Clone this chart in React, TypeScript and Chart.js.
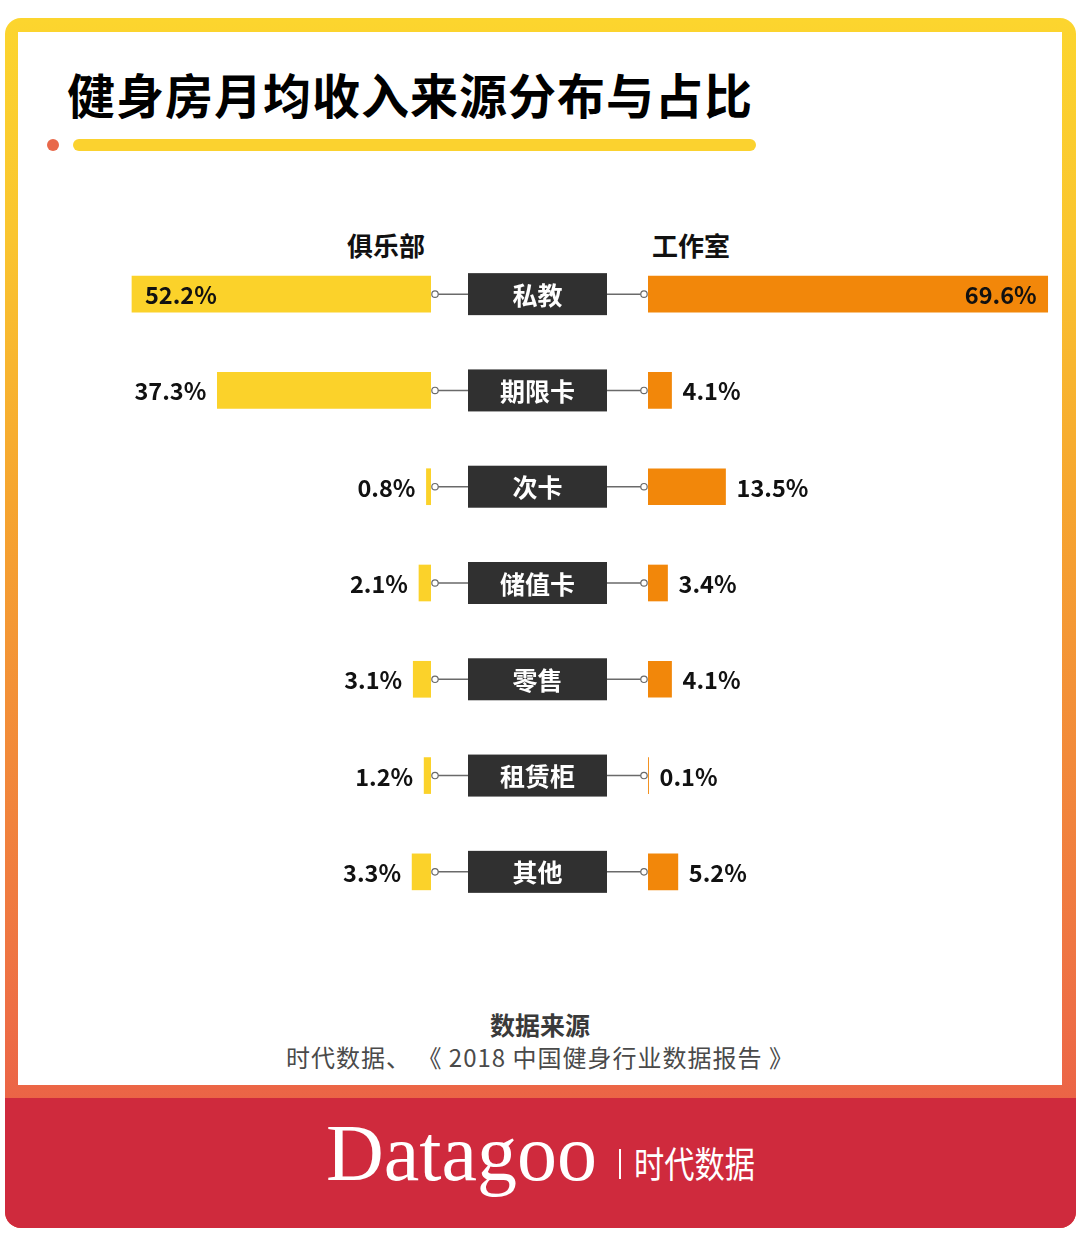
import React, { useEffect, useRef } from "react";
import { Chart, registerables } from "chart.js";

Chart.register(...registerables);

const categories = ["私教", "期限卡", "次卡", "储值卡", "零售", "租赁柜", "其他"];
const clubValues = [52.2, 37.3, 0.8, 2.1, 3.1, 1.2, 3.3];
const studioValues = [69.6, 4.1, 13.5, 3.4, 4.1, 0.1, 5.2];
const seriesNames = ["俱乐部", "工作室"];

const FONT = '"Noto Sans CJK SC", "Noto Sans", sans-serif';
const YELLOW = "#FBD22A";
const ORANGE = "#F2870A";
const INSIDE_THRESHOLD = 45;

const CENTER_GAP = 217; // space reserved in left canvas for center labels

const leftPlugin = {
  id: "leftLabels",
  afterDatasetsDraw(chart: any) {
    const ctx = chart.ctx;
    const xs = chart.scales.x;
    const ys = chart.scales.y;
    const area = chart.chartArea;
    const W = chart.width;
    ctx.save();
    categories.forEach((cat, i) => {
      const y = ys.getPixelForValue(i);
      const v = clubValues[i];
      const px = xs.getPixelForValue(v);
      const x0 = xs.getPixelForValue(0);
      ctx.font = `700 23.5px ${FONT}`;
      ctx.fillStyle = "#111";
      ctx.textBaseline = "middle";
      if (v > INSIDE_THRESHOLD) {
        ctx.textAlign = "left";
        ctx.fillText(`${v}%`, px + 13, y + 1);
      } else {
        ctx.textAlign = "right";
        ctx.fillText(`${v}%`, px - 11, y + 1);
      }
      const bx = area.right + 37;
      const bw = 139;
      const bh = 42;
      ctx.strokeStyle = "#6a6a6a";
      ctx.lineWidth = 1.5;
      ctx.beginPath();
      ctx.moveTo(x0 + 4, y);
      ctx.lineTo(bx, y);
      ctx.moveTo(bx + bw, y);
      ctx.lineTo(W - 4, y);
      ctx.stroke();
      ctx.fillStyle = "#fff";
      ctx.lineWidth = 1.2;
      [x0 + 4, W - 4].forEach((cx) => {
        ctx.beginPath();
        ctx.arc(cx, y, 3.2, 0, Math.PI * 2);
        ctx.fill();
        ctx.stroke();
      });
      ctx.fillStyle = "#303030";
      ctx.fillRect(bx, y - bh / 2, bw, bh);
      ctx.fillStyle = "#fff";
      ctx.font = `700 25px ${FONT}`;
      ctx.textAlign = "center";
      ctx.fillText(cat, bx + bw / 2, y + 1);
    });
    ctx.restore();
  },
};

const rightPlugin = {
  id: "rightLabels",
  afterDatasetsDraw(chart: any) {
    const ctx = chart.ctx;
    const xs = chart.scales.x;
    const ys = chart.scales.y;
    ctx.save();
    studioValues.forEach((v, i) => {
      const y = ys.getPixelForValue(i);
      const px = xs.getPixelForValue(v);
      ctx.font = `700 23.5px ${FONT}`;
      ctx.fillStyle = "#111";
      ctx.textBaseline = "middle";
      if (v > INSIDE_THRESHOLD) {
        ctx.textAlign = "right";
        ctx.fillText(`${v}%`, px - 11, y + 1);
      } else {
        ctx.textAlign = "left";
        ctx.fillText(`${v}%`, px + 11, y + 1);
      }
    });
    ctx.restore();
  },
};

function makeOptions(reverse: boolean, padRight: number): any {
  return {
    indexAxis: "y",
    responsive: true,
    maintainAspectRatio: false,
    animation: false,
    layout: { padding: { left: 0, right: padRight, top: 0, bottom: 0 } },
    plugins: { legend: { display: false }, tooltip: { enabled: false } },
    scales: {
      x: { type: "linear", min: 0, max: 70, reverse, display: false },
      y: { type: "category", display: false, offset: true },
    },
  };
}

export default function App() {
  const leftRef = useRef<HTMLCanvasElement>(null);
  const rightRef = useRef<HTMLCanvasElement>(null);

  useEffect(() => {
    const left = new Chart(leftRef.current!, {
      type: "bar",
      data: {
        labels: categories,
        datasets: [
          {
            label: seriesNames[0],
            data: clubValues,
            backgroundColor: YELLOW,
            barThickness: 36,
          },
        ],
      },
      options: makeOptions(true, CENTER_GAP),
      plugins: [leftPlugin],
    });
    const right = new Chart(rightRef.current!, {
      type: "bar",
      data: {
        labels: categories,
        datasets: [
          {
            label: seriesNames[1],
            data: studioValues,
            backgroundColor: ORANGE,
            barThickness: 36,
          },
        ],
      },
      options: makeOptions(false, 0),
      plugins: [rightPlugin],
    });
    return () => {
      left.destroy();
      right.destroy();
    };
  }, []);

  const abs = (s: React.CSSProperties): React.CSSProperties => ({ position: "absolute", ...s });

  return (
    <div style={abs({ left: 0, top: 0, width: 1080, height: 1243, background: "#fff", fontFamily: FONT, overflow: "hidden" })}>
      <div
        style={abs({
          left: 5,
          top: 18,
          width: 1071,
          height: 1210,
          borderRadius: 16,
          background: "linear-gradient(to bottom, #FCD52E 0%, #FAC52F 18%, #F6A52F 40%, #EE6F45 82%, #EB6346 90%, #EB6346 100%)",
        })}
      />
      <div style={abs({ left: 18, top: 32, width: 1044, height: 1053, background: "#fff" })} />
      <div style={abs({ left: 5, top: 1098, width: 1071, height: 130, background: "#CF2A3D", borderRadius: "0 0 16px 16px" })} />

      {/* title */}
      <div style={abs({ left: 67, top: 66, fontSize: 48, fontWeight: 700, lineHeight: "54px", letterSpacing: 1, color: "#000", whiteSpace: "nowrap" })}>
        健身房月均收入来源分布与占比
      </div>
      <div style={abs({ left: 47, top: 139, width: 12, height: 12, borderRadius: 6, background: "#E8684A" })} />
      <div style={abs({ left: 73, top: 139, width: 683, height: 12, borderRadius: 6, background: "#FBD22F" })} />

      {/* column headers */}
      <div style={abs({ left: 306, top: 228, width: 160, textAlign: "center", fontSize: 26, fontWeight: 700, lineHeight: "34px", color: "#111" })}>
        {seriesNames[0]}
      </div>
      <div style={abs({ left: 611, top: 228, width: 160, textAlign: "center", fontSize: 26, fontWeight: 700, lineHeight: "34px", color: "#111" })}>
        {seriesNames[1]}
      </div>

      {/* charts */}
      <div style={abs({ left: 30, top: 246, width: 618, height: 674 })}>
        <canvas ref={leftRef} />
      </div>
      <div style={abs({ left: 648, top: 246, width: 402, height: 674 })}>
        <canvas ref={rightRef} />
      </div>

      {/* source */}
      <div style={abs({ left: 0, top: 1009, width: 1080, textAlign: "center", fontSize: 25, fontWeight: 700, lineHeight: "30px", color: "#3a3a3a" })}>
        数据来源
      </div>
      <div style={abs({ left: 0, top: 1042, width: 1080, textAlign: "center", fontSize: 24, fontWeight: 400, lineHeight: "30px", letterSpacing: 1, color: "#4a4a4a", whiteSpace: "pre" })}>
        {"时代数据、 《 2018 中国健身行业数据报告 》"}
      </div>

      {/* footer brand */}
      <div style={abs({ left: 326, top: 1108, fontFamily: '"Liberation Serif", "DejaVu Serif", serif', fontSize: 80, lineHeight: "90px", color: "#fff", whiteSpace: "nowrap" })}>
        Datagoo
      </div>
      <div style={abs({ left: 619, top: 1149, width: 2, height: 30, background: "#fff" })} />
      <div
        style={abs({
          left: 634,
          top: 1140,
          fontSize: 36,
          fontWeight: 400,
          lineHeight: "44px",
          color: "#fff",
          whiteSpace: "nowrap",
          transform: "scaleX(0.84)",
          transformOrigin: "left center",
        })}
      >
        时代数据
      </div>
    </div>
  );
}
